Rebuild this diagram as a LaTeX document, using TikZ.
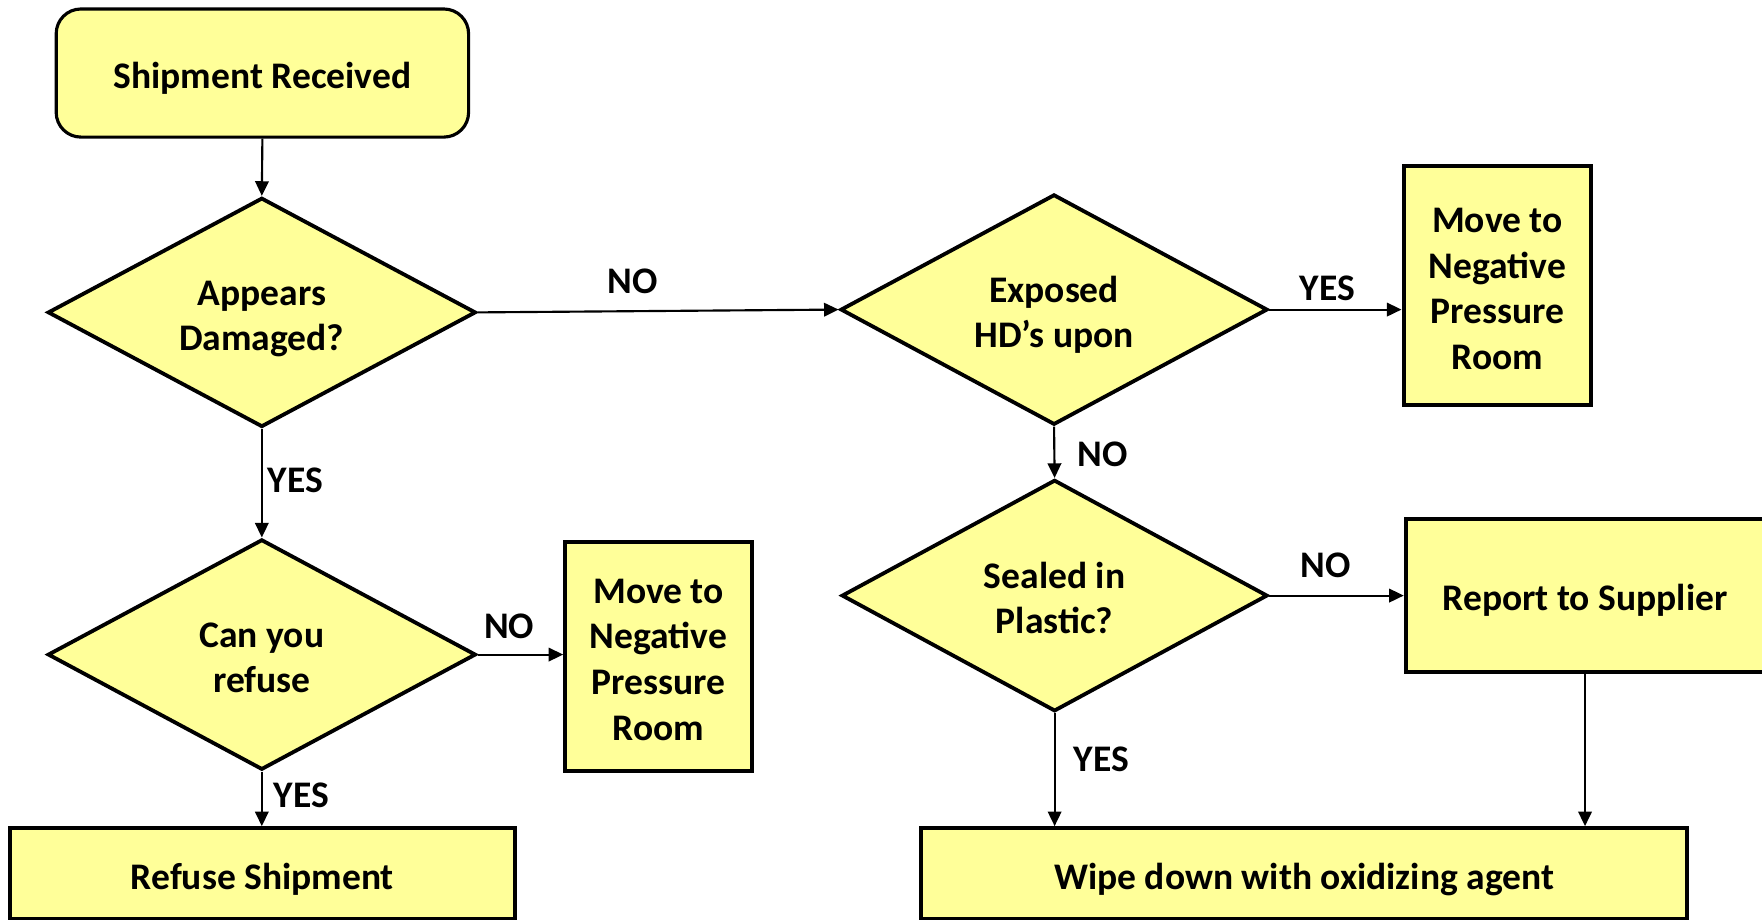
\documentclass[tikz,border=0pt]{standalone}
\usepackage{fontspec}
\setmainfont{Carlito}
\usetikzlibrary{shapes.geometric,arrows.meta,calc}

\definecolor{boxfill}{RGB}{255,255,153}

% centred block of lines, set a little below the shape's centre
\newcommand\lines[1]{\raisebox{-2.8pt}[\height][\depth]{\begin{tabular}{@{}c@{}}#1\end{tabular}}}

\tikzset{
  txt/.style={font=\bfseries\fontsize{16.7}{20.3}\selectfont, text=black},
  startbox/.style={txt, draw=black, fill=boxfill, line width=1.4pt, rounded corners=11pt,
    rectangle, inner sep=0pt},
  procbox/.style={txt, draw=black, fill=boxfill, line width=1.8pt, rectangle, inner sep=0pt},
  decision/.style={txt, draw=black, fill=boxfill, line width=1.7pt, diamond, inner sep=0pt,
    aspect=1.87},
  flow/.style={line width=0.95pt, -{Triangle[length=6.5pt,width=6pt]}},
  lbl/.style={txt, inner sep=0pt}
}

\begin{document}
\begin{tikzpicture}[x=0.5pt, y=-0.5pt]
  \clip (0,0) rectangle (1568,818.7);
  \fill[white] (0,0) rectangle (1568,818.7);

  % left column
  \node[startbox, minimum width=183.5pt, minimum height=57pt] (start) at (233.5,65) {\lines{Shipment Received}};
  \node[decision, minimum width=190.5pt, minimum height=102pt] (damaged) at (233,278) {\lines{Appears\\Damaged?}};
  \node[decision, minimum width=190.5pt, minimum height=102.5pt] (refuse) at (233,582.5) {\lines{Can you\\refuse}};
  \node[procbox, minimum width=83pt, minimum height=102pt] (negA) at (586,584) {\lines{Move to\\Negative\\Pressure\\Room}};
  \node[procbox, minimum width=224.5pt, minimum height=40.5pt] (refship) at (233.5,777.5) {\lines{Refuse Shipment}};

  % right column
  \node[decision, minimum width=190pt, minimum height=102.5pt] (exposed) at (938,275.5) {\lines{Exposed\\HD’s upon}};
  \node[procbox, minimum width=83.5pt, minimum height=106pt] (negB) at (1332.5,254) {\lines{Move to\\Negative\\Pressure\\Room}};
  \node[decision, minimum width=189.5pt, minimum height=103pt] (sealed) at (938.5,530) {\lines{Sealed in\\Plastic?}};
  \node[procbox, minimum width=159.5pt, minimum height=68pt] (report) at (1410.5,530) {\lines{Report to Supplier}};
  \node[procbox, minimum width=340.5pt, minimum height=40.5pt] (wipe) at (1160.5,777.5) {\lines{Wipe down with oxidizing agent}};

  % connectors
  \draw[flow] (start.south) -- (damaged.north);
  \draw[flow] (damaged.east) -- (exposed.west);
  \draw[flow] (damaged.south) -- (refuse.north);
  \draw[flow] (refuse.east) -- (refuse.east -| negA.west);
  \draw[flow] (refuse.south) -- (refuse.south |- refship.north);
  \draw[flow] (exposed.east) -- (exposed.east -| negB.west);
  \draw[flow] (exposed.south) -- (sealed.north);
  \draw[flow] (sealed.east) -- (sealed.east -| report.west);
  \draw[flow] (sealed.south) -- (sealed.south |- wipe.north);
  \draw[flow] (report.south) -- (report.south |- wipe.north);

  % branch labels
  \node[lbl] (l1) at (563,250) {NO};
  \node[lbl] (l2) at (263,427) {YES};
  \node[lbl] (l3) at (453,557) {NO};
  \node[lbl] (l4) at (268,708) {YES};
  \node[lbl] (l5) at (1181,257) {YES};
  \node[lbl] (l6) at (981,404) {NO};
  \node[lbl] (l7) at (1180,503) {NO};
  \node[lbl] (l8) at (980,676) {YES};
\end{tikzpicture}
\end{document}
